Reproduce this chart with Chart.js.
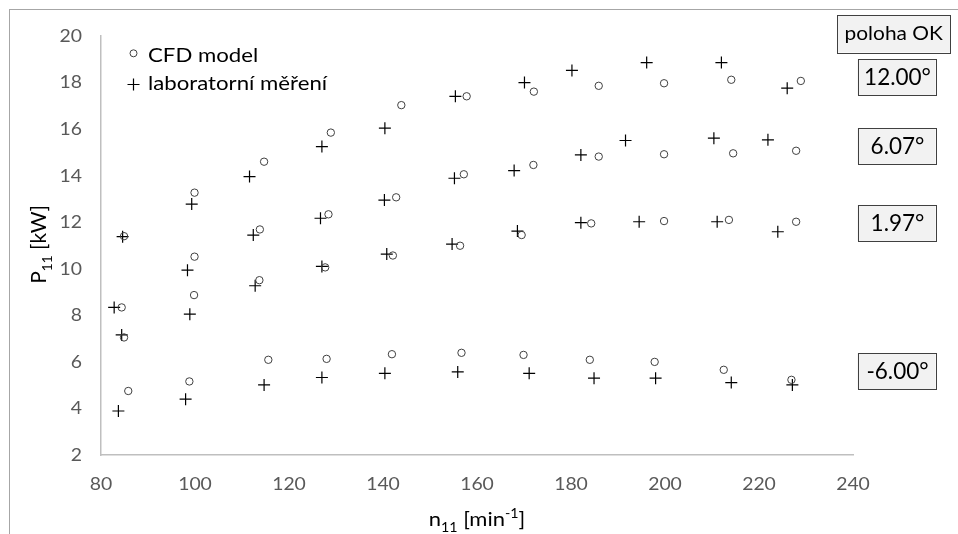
<!DOCTYPE html>
<html>
<head>
<meta charset="utf-8">
<script src="https://cdn.jsdelivr.net/npm/chart.js@4.4.0/dist/chart.umd.min.js"></script>
<style>
  html, body { margin: 0; padding: 0; background: #fff; }
  #wrap { position: relative; width: 958px; height: 534px; overflow: hidden; }
  #frame { position: absolute; left: 9px; top: 9px; width: 980px; height: 560px;
           border-top: 1px solid #a6a6a6; border-left: 1px solid #a6a6a6; }
  #graf { position: absolute; left: 0; top: 0; }
</style>
</head>
<body>
<div id="wrap">
  <div id="frame"></div>
  <canvas id="graf" width="958" height="534"></canvas>
</div>
<script>
// CFD model (kruzky), po radach 12.00°, 6.07°, 1.97°, -6.00°
const cfdN = [84.9, 99.9, 114.7, 128.9, 143.9, 157.8, 172.1, 185.9, 199.8, 214.1, 228.9,
              84.4, 99.9, 113.8, 128.4, 142.8, 157.2, 172.0, 185.9, 199.8, 214.5, 227.9,
              84.9, 99.8, 113.7, 127.7, 142.1, 156.4, 169.5, 184.3, 199.8, 213.6, 227.9,
              85.8, 98.8, 115.6, 128.0, 141.9, 156.7, 169.9, 184.0, 197.8, 212.5, 226.9];
const cfdP = [11.40, 13.27, 14.60, 15.85, 17.03, 17.41, 17.61, 17.86, 17.97, 18.12, 18.07,
              8.34, 10.52, 11.69, 12.34, 13.07, 14.06, 14.46, 14.82, 14.92, 14.96, 15.07,
              7.05, 8.87, 9.51, 10.06, 10.57, 10.99, 11.45, 11.95, 12.05, 12.10, 12.02,
              4.75, 5.16, 6.09, 6.13, 6.33, 6.39, 6.30, 6.09, 6.00, 5.66, 5.23];

// laboratorni mereni (krizky)
const labN = [84.6, 99.3, 111.6, 127.0, 140.4, 155.4, 170.1, 180.2, 196.1, 212.0, 226.0,
              82.8, 98.4, 112.4, 126.7, 140.3, 155.2, 167.9, 182.1, 191.6, 210.4, 221.9,
              84.4, 98.9, 112.8, 127.0, 140.8, 154.7, 168.6, 182.1, 194.5, 211.1, 224.0,
              83.7, 98.0, 114.7, 127.0, 140.4, 155.9, 171.1, 184.9, 198.0, 214.1, 227.1];
const labP = [11.38, 12.78, 13.96, 15.25, 16.04, 17.41, 18.00, 18.52, 18.86, 18.86, 17.76,
              8.34, 9.94, 11.45, 12.17, 12.95, 13.89, 14.22, 14.89, 15.51, 15.61, 15.54,
              7.16, 8.05, 9.27, 10.10, 10.63, 11.06, 11.62, 11.98, 12.02, 12.02, 11.59,
              3.89, 4.40, 5.01, 5.33, 5.51, 5.57, 5.51, 5.30, 5.30, 5.11, 5.01];

const seriesNames = ['CFD model', 'laboratorní měření'];
const polohy = ['poloha OK', '12.00°', '6.07°', '1.97°', '-6.00°'];
const xTicks = [80, 100, 120, 140, 160, 180, 200, 220, 240];
const yTicks = [2, 4, 6, 8, 10, 12, 14, 16, 18, 20];

const FONT = 'Lato, "Liberation Sans", sans-serif';
// vyska stitku poloh v jednotkach osy y
const polohyHladina = [20.10, 18.24, 15.28, 11.97, 5.60];

function toPoints(xs, ys) {
  return xs.map((x, i) => ({ x: x, y: ys[i] }));
}

// text roztazeny vodorovne (predloha je roztazena)
function txt(ctx, s, x, y, size, sx, align, color) {
  ctx.save();
  ctx.translate(x, y);
  ctx.scale(sx, 1);
  ctx.font = size + 'px ' + FONT;
  ctx.textAlign = align;
  ctx.textBaseline = 'alphabetic';
  ctx.fillStyle = color;
  ctx.fillText(s, 0, 0);
  ctx.restore();
}

function drawRich(ctx, parts, x, y, size, sx) {
  let w = 0;
  parts.forEach(p => {
    ctx.font = (p.sub || p.sup ? size * 0.65 : size) + 'px ' + FONT;
    p.w = ctx.measureText(p.t).width;
    w += p.w;
  });
  ctx.save();
  ctx.translate(x, y);
  ctx.scale(sx, 1);
  ctx.textAlign = 'left';
  ctx.textBaseline = 'alphabetic';
  let cx = -w / 2;
  parts.forEach(p => {
    ctx.font = (p.sub || p.sup ? size * 0.65 : size) + 'px ' + FONT;
    const dy = p.sub ? size * 0.28 : (p.sup ? -size * 0.38 : 0);
    ctx.fillText(p.t, cx, dy);
    cx += p.w;
  });
  ctx.restore();
}

const extras = {
  id: 'extras',
  afterDraw(chart) {
    const ctx = chart.ctx;
    const area = chart.chartArea;
    const xs = chart.scales.x;
    const ys = chart.scales.y;
    ctx.save();

    // popisky os (pozice z meritek grafu)
    const tickSize = 16.3;
    const tickOff = tickSize * 0.717 / 2;
    xs.ticks.forEach(t => {
      txt(ctx, String(t.value), xs.getPixelForValue(t.value), area.bottom + 29 + tickOff, tickSize, 1.19, 'center', '#595959');
    });
    ys.ticks.forEach(t => {
      txt(ctx, String(t.value), area.left - 19, ys.getPixelForValue(t.value) + tickOff, tickSize, 1.19, 'right', '#595959');
    });

    // nazvy os
    ctx.fillStyle = '#000';
    ctx.save();
    ctx.translate(46, 244.5);
    ctx.rotate(-Math.PI / 2);
    drawRich(ctx, [{ t: 'P' }, { t: '11', sub: true }, { t: ' [kW]' }], 0, 0, 21, 1);
    ctx.restore();
    drawRich(ctx, [{ t: 'n' }, { t: '11', sub: true }, { t: ' [min' }, { t: '-1', sup: true }, { t: ']' }],
      (area.left + area.right) / 2, 526, 20, 1.1);

    // legenda
    const lx = area.left + 32.5;
    ctx.strokeStyle = '#404040';
    ctx.lineWidth = 1;
    ctx.beginPath();
    ctx.arc(lx, area.top + 17.3, 3.5, 0, Math.PI * 2);
    ctx.stroke();
    ctx.strokeStyle = '#000';
    ctx.lineWidth = 1.2;
    const cy = area.top + 48.5;
    ctx.beginPath();
    ctx.moveTo(lx - 6, cy); ctx.lineTo(lx + 6, cy);
    ctx.moveTo(lx, cy - 6); ctx.lineTo(lx, cy + 6);
    ctx.stroke();
    txt(ctx, seriesNames[0], lx + 14.5, area.top + 25.7, 18.5, 1.2, 'left', '#000');
    txt(ctx, seriesNames[1], lx + 14.5, area.top + 54, 18.5, 1.2, 'left', '#000');

    // stitky poloh
    polohy.forEach((s, i) => {
      const by = ys.getPixelForValue(polohyHladina[i]);
      const w = i === 0 ? 113 : 78;
      const h = i === 0 ? 37.5 : 36;
      const bx = i === 0 ? area.right + 40.7 : area.right + 43.5;
      ctx.fillStyle = '#f2f2f2';
      ctx.fillRect(bx - w / 2, by - h / 2, w, h);
      ctx.strokeStyle = '#404040';
      ctx.lineWidth = 1;
      ctx.strokeRect(Math.round(bx - w / 2) + 0.5, Math.round(by - h / 2) + 0.5, Math.round(w), Math.round(h));
      if (i === 0) {
        txt(ctx, s, bx, by + 19 * 0.717 / 2, 19, 1.1, 'center', '#000');
      } else {
        txt(ctx, s, bx + 1, by + 22.5 * 0.717 / 2, 22.5, 1.0, 'center', '#000');
      }
    });
    ctx.restore();
  }
};

new Chart(document.getElementById('graf'), {
  type: 'scatter',
  data: {
    datasets: [
      {
        label: seriesNames[0],
        data: toPoints(cfdN, cfdP),
        pointStyle: 'circle',
        radius: 3.7,
        borderColor: '#404040',
        backgroundColor: 'rgba(255,255,255,0)',
        borderWidth: 1,
      },
      {
        label: seriesNames[1],
        data: toPoints(labN, labP),
        pointStyle: 'cross',
        radius: 6,
        borderColor: '#000',
        borderWidth: 1.2,
      },
    ],
  },
  options: {
    responsive: false,
    animation: false,
    layout: { padding: { top: 36, right: 105, left: 0, bottom: 0 } },
    plugins: { legend: { display: false }, tooltip: { enabled: false } },
    scales: {
      x: {
        type: 'linear',
        min: 80,
        max: 240,
        afterBuildTicks: s => { s.ticks = xTicks.map(v => ({ value: v })); },
        afterFit: s => { s.height = 79; },
        ticks: { display: false },
        grid: { display: false },
        border: { display: true, color: '#bfbfbf', width: 1.5 },
      },
      y: {
        min: 2,
        max: 20,
        afterBuildTicks: s => { s.ticks = yTicks.map(v => ({ value: v })); },
        afterFit: s => { s.width = 101; },
        ticks: { display: false },
        grid: { display: false },
        border: { display: true, color: '#bfbfbf', width: 1.5 },
      },
    },
  },
  plugins: [extras],
});
</script>
</body>
</html>
